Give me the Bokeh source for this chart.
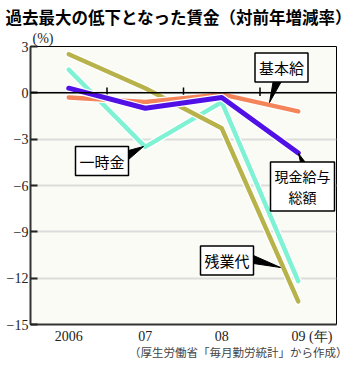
from bokeh.plotting import figure
from bokeh.models import Range1d, FixedTicker, Label, Span, ColumnDataSource, Title
from bokeh.embed import file_html
from bokeh.resources import INLINE

years = ["2006", "07", "08", "09"]
yticks = [3, 0, -3, -6, -9, -12, -15]
zangyo = [2.5, 0.3, -2.3, -13.5]      # 残業代
ichiji = [1.5, -3.5, -0.6, -12.2]     # 一時金
genkin = [0.3, -1.0, -0.3, -3.9]      # 現金給与総額
kihon = [-0.3, -0.6, -0.1, -1.2]      # 基本給

xs = list(range(len(years)))

# frame geometry in pixels (used only to place annotations)
FL, FR, FT, FB = 30, 336, 46, 324
W, H = 353, 367

def px2x(px):
    return (px - FL) / ((FR - FL) / 4.0) - 0.5

def py2y(py):
    return (FB - py) / ((FB - FT) / 18.0) - 15

p = figure(width=W, height=H, x_range=Range1d(-0.5, 3.5), y_range=Range1d(-15, 3),
           output_backend="svg", toolbar_location=None, title=None,
           min_border_left=FL, min_border_right=W - FR, min_border_top=FT, min_border_bottom=H - FB)
p.background_fill_color = "#fbfbf5"
p.border_fill_color = "white"
p.outline_line_color = "black"
p.outline_line_width = 1

SERIF = "Liberation Serif"
SANS = "Noto Sans CJK JP"

# axes
p.yaxis.ticker = FixedTicker(ticks=yticks)
p.yaxis.axis_line_width = 2
p.yaxis.axis_line_color = "#333333"
p.yaxis.major_tick_in = 7
p.yaxis.major_tick_out = 0
p.yaxis.major_tick_line_width = 2
p.yaxis.major_tick_line_color = "#222222"
p.yaxis.minor_tick_line_color = None
p.yaxis.major_label_text_font = SERIF
p.yaxis.major_label_text_font_size = "14px"
p.yaxis.major_label_text_color = "#222222"
p.yaxis.major_label_standoff = 2

# last label carries the unit "(年)"; its tick sits a bit right so that "09" stays under the point
xlabel_ticks = [0, 1, 2, 3.18]
p.xaxis.ticker = FixedTicker(ticks=xlabel_ticks)
p.xaxis.major_label_overrides = {0: years[0], 1: years[1], 2: years[2], 3.18: years[3] + " (年)"}
p.xaxis.axis_line_width = 2
p.xaxis.axis_line_color = "#333333"
p.xaxis.major_tick_in = 0
p.xaxis.major_tick_out = 0
p.xaxis.minor_tick_line_color = None
p.xaxis.major_label_text_font = SERIF
p.xaxis.major_label_text_font_size = "14px"
p.xaxis.major_label_text_color = "#222222"
p.xaxis.major_label_standoff = 4

p.xgrid.grid_line_color = None
p.ygrid.ticker = FixedTicker(ticks=yticks)
p.ygrid.grid_line_color = "#dcdcdc"
p.ygrid.grid_line_width = 2

p.add_layout(Span(location=0, dimension="width", line_color="black", line_width=1.5))
# small ticks on zero line between years
p.segment(x0=[0.5, 1.5, 2.5], y0=[-0.2] * 3, x1=[0.5, 1.5, 2.5], y1=[0.35] * 3,
          line_color="black", line_width=1.5)

series = [
    (ichiji, "#80f2d4", 4.5),
    (zangyo, "#b7b24a", 4.5),
    (kihon, "#f4845a", 4.5),
    (genkin, "#5010e6", 5),
]
for vals, col, lw in series:
    src = ColumnDataSource(dict(x=xs, y=vals))
    p.line("x", "y", source=src, line_color="white", line_width=lw + 2.5,
           line_cap="round", line_join="round")
    p.line("x", "y", source=src, line_color=col, line_width=lw,
           line_cap="round", line_join="round")

# pointers (triangles) for callouts
ptr_px = [
    [(273, 79), (282, 79), (269, 102)],     # 基本給
    [(301, 166), (308, 166), (298, 153)],   # 現金給与総額
    [(128, 150), (128, 159), (143, 146)],   # 一時金
    [(253, 255), (253, 263), (280, 267)],   # 残業代
]
p.patches([[px2x(a) for a, b in t] for t in ptr_px],
          [[py2y(b) for a, b in t] for t in ptr_px],
          fill_color="black", line_color="black", line_width=1)

def box(text, cx, cy, size="15px"):
    p.add_layout(Label(x=px2x(cx), y=py2y(cy), text=text, text_align="center",
                       text_baseline="middle", text_font=SANS, text_font_size=size,
                       text_color="black", background_fill_color="white",
                       border_line_color="black", border_line_width=1.5,
                       padding=4, text_line_height=1.05))

box("基本給", 281, 67)
box("現金給与\n総額", 302, 186, "14px")
box("一時金", 101.5, 160.5)
box("残業代", 226.5, 260)

# titles outside the frame
p.add_layout(Title(text="(%)", align="left", offset=2, standoff=1, text_font=SERIF,
                   text_font_size="14px", text_font_style="normal", text_color="#222222"), "above")
p.add_layout(Title(text="過去最大の低下となった賃金（対前年増減率）", align="left", offset=-25,
                   standoff=0, text_font=SANS, text_font_size="16.5px", text_font_style="bold",
                   text_color="black"), "above")
p.add_layout(Title(text="（厚生労働省「毎月勤労統計」から作成）", align="right", offset=-11,
                   standoff=-9, text_font=SANS, text_font_size="11.5px", text_font_style="normal",
                   text_color="#444444"), "below")

open("out.html", "w").write(file_html(p, INLINE))
